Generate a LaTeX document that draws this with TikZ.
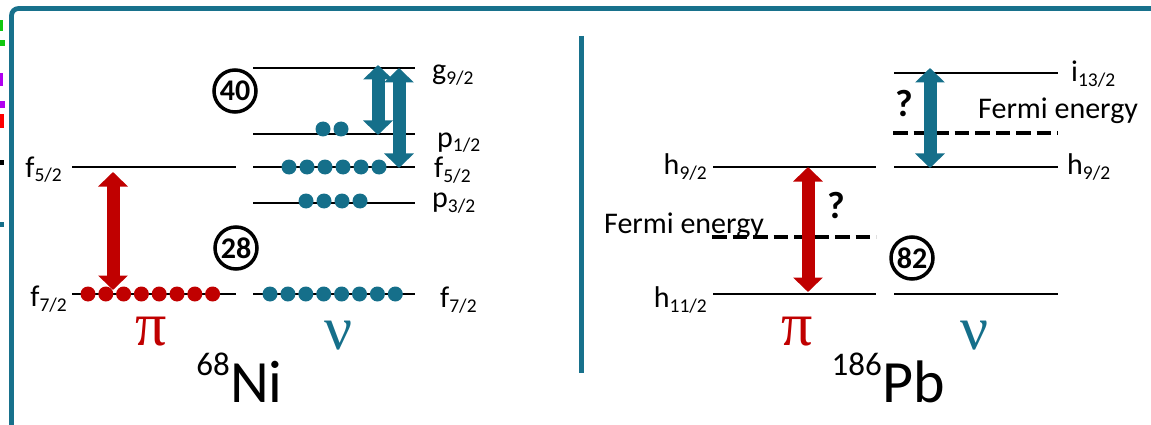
\documentclass[tikz,border=0pt]{standalone}
\usepackage{fontspec}
\setmainfont{Carlito}
\newfontfamily\greekfont{Liberation Serif}
\usetikzlibrary{arrows.meta}
\definecolor{nred}{HTML}{C00000}
\definecolor{nteal}{HTML}{156F8A}
\definecolor{frameteal}{HTML}{18718C}
\definecolor{edgegreen}{HTML}{10C810}
\definecolor{edgepurple}{HTML}{B000F0}
\newcommand\fs[1]{\fontsize{#1}{#1}\selectfont}
% orbital label: letter with a lowered, smaller j value
\newcommand\orb[2]{#1\raisebox{-5pt}{\fs{19.5}#2}}

\begin{document}
\begin{tikzpicture}[x=1pt,y=-1pt,
  level/.style={line width=2pt},
  fermi/.style={line width=4pt, dash pattern=on 14.5pt off 6pt},
  pdot/.style={circle, fill=nred, inner sep=0pt, minimum size=15pt},
  ndot/.style={circle, fill=nteal, inner sep=0pt, minimum size=15pt},
  lbl/.style={inner sep=0pt, font=\fs{30}},
  magic/.style={circle, draw, line width=3.5pt, minimum size=42pt, inner sep=0pt, font=\fs{30}\bfseries},
  quest/.style={inner sep=0pt, font=\fs{38}\bfseries},
  greek/.style={inner sep=0pt, font=\greekfont\fs{62}},
  frame/.style={draw=frameteal, line width=4.8pt},
  dblarrow/.style={line width=13pt, {Triangle[width=29pt,length=14.5pt]}-{Triangle[width=29pt,length=14.5pt]}}
]
\useasboundingbox (0,0) rectangle (1151,425);

% slide frame and divider
\draw[frame, rounded corners=7pt] (11.5,440) -- (11.5,8.5) -- (1170,8.5);
\draw[frame] (581.5,36) -- (581.5,373);

% coloured fragments at the left edge
\fill[edgegreen] (0,20) rectangle (3,31);
\fill[edgegreen] (0,40) rectangle (4.5,46);
\fill[edgepurple] (0,73) rectangle (3,86);
\fill[edgepurple] (0,101) rectangle (4.5,108);
\fill[red] (0,114) rectangle (3.5,128);
\fill[black] (0,160) rectangle (4,165);
\fill[nteal] (0,222) rectangle (3.5,227);

% ---------------- 68Ni ----------------
% proton levels
\draw[level] (72,167) -- (236,167);
\draw[level] (72,294) -- (236,294);
\node[lbl, anchor=base east] (lf52) at (62,177) {\orb{f}{5/2}};
\node[lbl, anchor=base east] (lf72) at (67,306) {\orb{f}{7/2}};

% neutron levels
\draw[level] (253,68) -- (415,68);
\draw[level] (253,134) -- (415,134);
\draw[level] (253,167) -- (415,167);
\draw[level] (253,203) -- (415,203);
\draw[level] (253,294) -- (415,294);
\node[lbl, anchor=base west] (ng92) at (432,80) {\orb{g}{9/2}};
\node[lbl, anchor=base west] (np12) at (437,147) {\orb{p}{1/2}};
\node[lbl, anchor=base west] (nf52) at (434,178) {\orb{f}{5/2}};
\node[lbl, anchor=base west] (np32) at (432,207) {\orb{p}{3/2}};
\node[lbl, anchor=base west] (nf72) at (440,307) {\orb{f}{7/2}};

% occupation
\foreach \i in {0,...,7} \node[pdot] (pf\i) at (88+17.8*\i,294) {};
\foreach \i in {0,...,7} \node[ndot] (nf\i) at (270+17.9*\i,294) {};
\foreach \i in {0,...,5} \node[ndot] (nfa\i) at (289+18*\i,167) {};
\foreach \i in {0,...,3} \node[ndot] (npb\i) at (306+18*\i,201) {};
\foreach \i in {0,1} \node[ndot] (npa\i) at (323+18*\i,129) {};

% magic numbers
\node[magic] (m40) at (235,91) {40};
\node[magic] (m28) at (236,248) {28};

% excitations
\coordinate (rpTop) at (113,172);
\coordinate (rpBot) at (113,290);
\coordinate (na1Top) at (378,65);
\coordinate (na1Bot) at (378,135);
\coordinate (na2Top) at (399,68);
\coordinate (na2Bot) at (399,168);
\draw[dblarrow, draw=nred] (rpTop) -- (rpBot);
\draw[dblarrow, draw=nteal] (na1Top) -- (na1Bot);
\draw[dblarrow, draw=nteal] (na2Top) -- (na2Bot);

\node[greek, text=nred] (piNi) at (151,332) {π};
\node[greek, text=nteal] (nuNi) at (339,336) {ν};
\node[anchor=base east, inner sep=0pt, font=\fs{33}] (a68) at (230,375) {68};
\node[anchor=base west, inner sep=0pt, font=\fs{60}] (ni) at (230,402) {Ni};

% ---------------- 186Pb ----------------
\draw[level] (713,167) -- (876,167);
\draw[level] (713,294) -- (876,294);
\draw[fermi] (712,237) -- (876,237);
\node[lbl, anchor=base east] (lh92) at (707,175) {\orb{h}{9/2}};
\node[lbl, anchor=base east] (lh112) at (707,307) {\orb{h}{11/2}};
\node[lbl, anchor=base west] (fermiP) at (604,233) {Fermi energy};

\draw[level] (894,73) -- (1058,73);
\draw[level] (894,167) -- (1058,167);
\draw[level] (894,294) -- (1058,294);
\draw[fermi] (893,133) -- (1058,133);
\node[lbl, anchor=base west] (ni132) at (1071,82) {\orb{i}{13/2}};
\node[lbl, anchor=base west] (nh92) at (1067,175) {\orb{h}{9/2}};
\node[lbl, anchor=base west] (fermiN) at (978,119) {Fermi energy};

\node[magic] (m82) at (912,258) {82};

\coordinate (rpbTop) at (808,167);
\coordinate (rpbBot) at (808,292);
\coordinate (nbTop) at (930,68);
\coordinate (nbBot) at (930,168);
\draw[dblarrow, draw=nred] (rpbTop) -- (rpbBot);
\draw[dblarrow, draw=nteal] (nbTop) -- (nbBot);
\node[quest] (qP) at (836,206) {?};
\node[quest] (qN) at (904.5,104) {?};

\node[greek, text=nred] (piPb) at (797,332) {π};
\node[greek, text=nteal] (nuPb) at (975,336) {ν};
\node[anchor=base east, inner sep=0pt, font=\fs{33}] (a186) at (882,375) {186};
\node[anchor=base west, inner sep=0pt, font=\fs{60}] (pb) at (882,402) {Pb};
\end{tikzpicture}
\end{document}
